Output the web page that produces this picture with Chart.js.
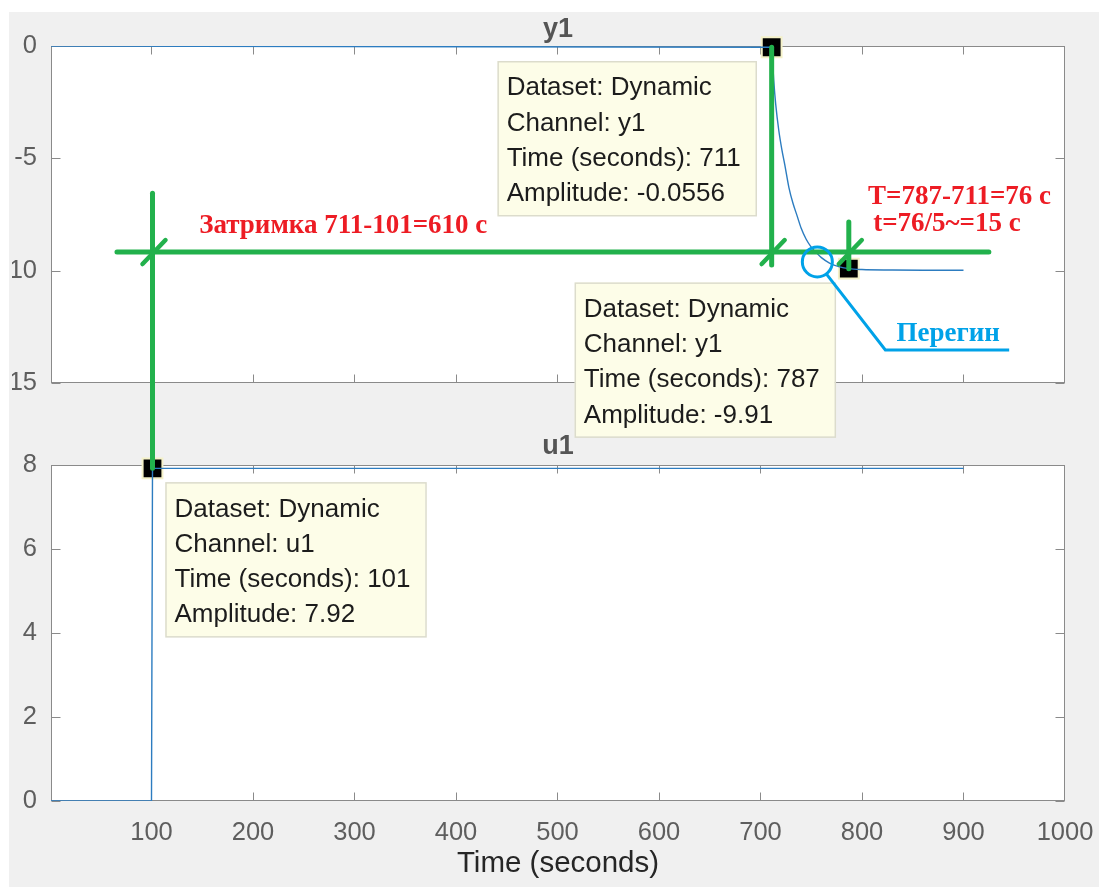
<!DOCTYPE html>
<html>
<head>
<meta charset="utf-8">
<script src="https://cdn.jsdelivr.net/npm/chart.js@4/dist/chart.umd.min.js"></script>
<style>
  html, body { margin: 0; padding: 0; background: #ffffff; }
  #fig { position: absolute; left: 9px; top: 12px; width: 1090px; height: 875px; background: #f0f0f0; overflow: hidden; }
  #wrap { position: absolute; left: 3px; top: 0; width: 1087px; height: 875px; }
</style>
</head>
<body>
<div id="fig"><div id="wrap"><canvas id="c" width="1087" height="875"></canvas></div></div>
<script>
// Axis ticks
const timeTicks = [100, 200, 300, 400, 500, 600, 700, 800, 900, 1000];
const y1Ticks = [0, -5, -10, -15];
const u1Ticks = [0, 2, 4, 6, 8];

// Output channel y1 (step response)
const y1Time = [1, 711, 713, 715, 718, 721, 724, 728, 732, 736, 740, 745, 750, 755, 760, 768, 778, 787, 800, 830, 860, 900];
const y1Amp  = [0, -0.0556, -1.5, -2.6, -3.75, -4.6, -5.3, -6.3, -7.0, -7.55, -8.1, -8.6, -8.95, -9.2, -9.42, -9.66, -9.83, -9.91, -9.95, -9.97, -9.98, -9.98];

// Input channel u1 (step)
const u1Time = [1, 100, 101, 900];
const u1Amp  = [0, 0, 7.92, 7.92];

// Data tips
const tipTime = [711, 787, 101];
const tipAmp = [-0.0556, -9.91, 7.92];
const tipChannel = ['y1', 'y1', 'u1'];
const tipDataset = 'Dynamic';

const GREEN = '#22b14c';
const RED = '#ed1c24';
const CYAN = '#00a2e8';
const NOTE_FONT = 'bold 27px "Liberation Serif", "Times New Roman", serif';

function pts(xs, ys) { return xs.map((t, i) => ({ x: t, y: ys[i] })); }

function tipPoints(channel) {
  return tipTime.map((t, i) => ({ x: t, y: tipAmp[i], ch: tipChannel[i] }))
    .filter(p => p.ch === channel).map(p => ({ x: p.x, y: p.y }));
}

const crisp = v => Math.round(v) + 0.5;

const figPlugin = {
  id: 'figDecor',
  beforeDraw(chart) {
    const { ctx, scales } = chart;
    const x = scales.x;
    ctx.save();
    ctx.fillStyle = '#ffffff';
    for (const s of [scales.y1, scales.u1]) {
      ctx.fillRect(x.left, s.top, x.right - x.left, s.bottom - s.top);
    }
    ctx.restore();
  },
  beforeDatasetsDraw(chart) {
    const { ctx, scales } = chart;
    const x = scales.x;
    ctx.save();
    ctx.strokeStyle = '#8a8a8a';
    ctx.lineWidth = 1;
    for (const s of [scales.y1, scales.u1]) {
      const L = crisp(x.left), R = crisp(x.right - 1), T = crisp(s.top), B = crisp(s.bottom - 1);
      ctx.strokeRect(L, T, R - L, B - T);
      ctx.beginPath();
      for (const t of timeTicks) {
        const px = crisp(x.getPixelForValue(t));
        if (px > R - 2) continue;
        ctx.moveTo(px, B); ctx.lineTo(px, B - 8);
        ctx.moveTo(px, T); ctx.lineTo(px, T + 8);
      }
      for (const tk of s.ticks) {
        const py = crisp(s.getPixelForValue(tk.value));
        ctx.moveTo(L, py); ctx.lineTo(L + 9, py);
        ctx.moveTo(R, py); ctx.lineTo(R - 9, py);
      }
      ctx.stroke();
    }
    // subplot titles
    ctx.fillStyle = '#555555';
    ctx.font = 'bold 27px "Liberation Sans", Arial, sans-serif';
    ctx.textAlign = 'center';
    ctx.textBaseline = 'alphabetic';
    const cx = (x.left + x.right) / 2;
    ctx.fillText('y1', cx, scales.y1.top - 9);
    ctx.fillText('u1', cx, scales.u1.top - 11);
    ctx.restore();
  },
  afterDatasetsDraw(chart) {
    const { ctx, scales } = chart;
    const x = scales.x, y1 = scales.y1, u1 = scales.u1;
    const P = (t, v, s) => [x.getPixelForValue(t), s.getPixelForValue(v)];
    ctx.save();

    // data tip boxes
    ctx.font = '26px "Liberation Sans", Arial, sans-serif';
    ctx.textBaseline = 'middle';
    ctx.textAlign = 'left';
    tipTime.forEach((t, i) => {
      const s = tipChannel[i] === 'u1' ? u1 : y1;
      const [mx, my] = P(t, tipAmp[i], s);
      const lines = [
        'Dataset: ' + tipDataset,
        'Channel: ' + tipChannel[i],
        'Time (seconds): ' + t,
        'Amplitude: ' + tipAmp[i]
      ];
      const w = Math.max(...lines.map(l => ctx.measureText(l).width)) + 24;
      const h = 154;
      const bx = i === 2 ? mx + 13 : mx - 274;
      const by = my + 14;
      ctx.fillStyle = '#fdfde8';
      ctx.fillRect(bx, by, w, h);
      ctx.strokeStyle = '#dcdccc';
      ctx.lineWidth = 1.5;
      ctx.strokeRect(bx + 0.5, by + 0.5, w, h);
      ctx.fillStyle = '#1c1c1c';
      lines.forEach((l, k) => ctx.fillText(l, bx + 9, by + 27 + k * 35.3));
    });

    // green construction lines
    ctx.strokeStyle = GREEN;
    ctx.lineWidth = 5;
    ctx.lineCap = 'round';
    const seg = (a, b) => { ctx.beginPath(); ctx.moveTo(a[0], a[1]); ctx.lineTo(b[0], b[1]); ctx.stroke(); };
    const hy = -9.17;
    seg(P(66, hy, y1), P(925, hy, y1));
    seg(P(101, -6.55, y1), P(101, 7.92, u1));
    seg(P(711, -0.0556, y1), P(711, -9.75, y1));
    seg(P(787, -7.83, y1), P(787, -9.91, y1));
    // slanted marks at the crossings
    ctx.lineWidth = 4.5;
    for (const t of [101, 711, 787]) {
      const [cx, cy] = P(t, hy, y1);
      seg([cx - 10, cy + 12], [cx + 13, cy - 12]);
    }

    // red notes
    ctx.fillStyle = RED;
    ctx.font = NOTE_FONT;
    ctx.textBaseline = 'middle';
    let p = P(147, -8.0, y1);
    ctx.fillText('Затримка 711-101=610 с', p[0], p[1]);
    p = P(806, -6.72, y1);
    ctx.fillText('T=787-711=76 с', p[0], p[1]);
    p = P(811, -7.92, y1);
    ctx.fillText('t=76/5~=15 с', p[0], p[1]);

    // inflection point callout
    ctx.strokeStyle = CYAN;
    ctx.lineWidth = 3;
    ctx.lineCap = 'butt';
    const c = P(756, -9.61, y1);
    ctx.beginPath(); ctx.arc(c[0], c[1], 15, 0, Math.PI * 2); ctx.stroke();
    const a = [c[0] + 15 * Math.cos(0.93), c[1] + 15 * Math.sin(0.93)];
    const k1 = P(823, -13.53, y1), k2 = P(945, -13.53, y1);
    ctx.beginPath(); ctx.moveTo(a[0], a[1]); ctx.lineTo(k1[0], k1[1]); ctx.lineTo(k2[0], k2[1]); ctx.stroke();
    ctx.fillStyle = CYAN;
    ctx.font = NOTE_FONT;
    p = P(834, -12.8, y1);
    ctx.fillText('Перегин', p[0], p[1]);
    ctx.restore();
  }
};

const tickFont = { family: '"Liberation Sans", Arial, sans-serif', size: 25.5 };
const TICK_COLOR = '#5e5e5e';
const plain = v => String(v);

new Chart(document.getElementById('c'), {
  type: 'line',
  data: {
    datasets: [
      {
        data: pts(y1Time, y1Amp), yAxisID: 'y1',
        borderColor: '#2c7cc0', borderWidth: 1.4, pointRadius: 0,
        cubicInterpolationMode: 'monotone'
      },
      {
        data: pts(u1Time, u1Amp), yAxisID: 'u1',
        borderColor: '#2c7cc0', borderWidth: 1.4, pointRadius: 0
      },
      {
        data: tipPoints('y1'), yAxisID: 'y1', showLine: false, clip: false,
        pointStyle: 'rect', pointRadius: 14, backgroundColor: '#000000',
        borderColor: '#f4f1c8', borderWidth: 2
      },
      {
        data: tipPoints('u1'), yAxisID: 'u1', showLine: false, clip: false,
        pointStyle: 'rect', pointRadius: 14, backgroundColor: '#000000',
        borderColor: '#f4f1c8', borderWidth: 2
      }
    ]
  },
  options: {
    responsive: false,
    animation: false,
    devicePixelRatio: 1,
    layout: { padding: { left: 0, top: 34, right: 34, bottom: 0 } },
    plugins: { legend: { display: false }, tooltip: { enabled: false } },
    scales: {
      x: {
        type: 'linear', min: 1, max: 1000,
        afterBuildTicks: s => { s.ticks = timeTicks.map(v => ({ value: v })); },
        afterFit: s => { s.height = 86; s.paddingLeft = 0; s.paddingRight = 0; },
        grid: { display: false, drawTicks: false },
        border: { display: false },
        ticks: { font: tickFont, color: TICK_COLOR, padding: 17, maxRotation: 0, autoSkip: false, callback: plain },
        title: {
          display: true, text: 'Time (seconds)', color: '#262626',
          font: { family: '"Liberation Sans", Arial, sans-serif', size: 29.5 },
          padding: { top: 0, bottom: 5 }
        }
      },
      y1: {
        type: 'linear', position: 'left', stack: 'plots', stackWeight: 337, weight: 3,
        min: -15, max: 0,
        afterBuildTicks: s => { s.ticks = y1Ticks.map(v => ({ value: v })); },
        afterFit: s => { s.width = 39; },
        grid: { display: false, drawTicks: false },
        border: { display: false },
        ticks: { font: tickFont, color: TICK_COLOR, padding: 14, callback: plain }
      },
      gap: {
        type: 'linear', position: 'left', stack: 'plots', stackWeight: 82, weight: 2,
        min: 0, max: 1,
        afterFit: s => { s.width = 39; },
        grid: { display: false, drawTicks: false },
        border: { display: false },
        ticks: { display: false }
      },
      u1: {
        type: 'linear', position: 'left', stack: 'plots', stackWeight: 336, weight: 1,
        min: 0, max: 8,
        afterBuildTicks: s => { s.ticks = u1Ticks.map(v => ({ value: v })); },
        afterFit: s => { s.width = 39; },
        grid: { display: false, drawTicks: false },
        border: { display: false },
        ticks: { font: tickFont, color: TICK_COLOR, padding: 14, callback: plain }
      }
    }
  },
  plugins: [figPlugin]
});
</script>
</body>
</html>
